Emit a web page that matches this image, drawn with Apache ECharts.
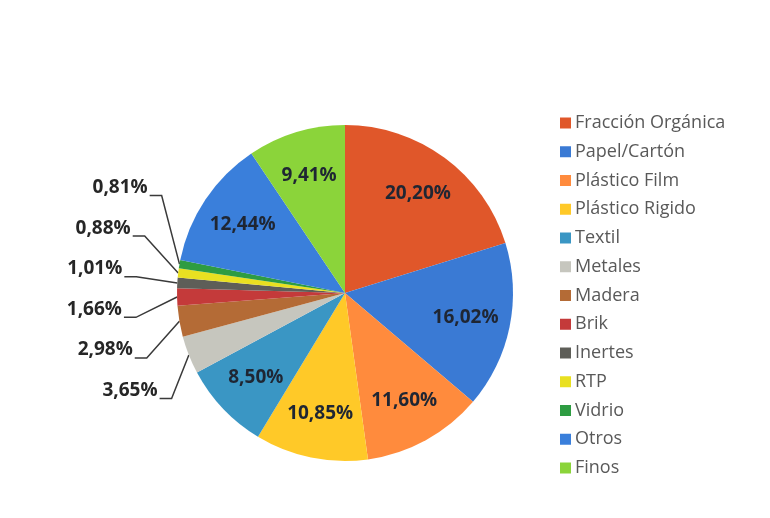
<!DOCTYPE html>
<html>
<head>
<meta charset="utf-8">
<script src="https://cdn.jsdelivr.net/npm/echarts@6/dist/echarts.min.js"></script>
<style>
html,body{margin:0;padding:0;background:#fff;}
#chart{width:770px;height:518px;}
</style>
</head>
<body>
<div id="chart"></div>
<script>
const categories = ['Fracción Orgánica','Papel/Cartón','Plástico Film','Plástico Rigido','Textil','Metales','Madera','Brik','Inertes','RTP','Vidrio','Otros','Finos'];
const values = [20.20,16.02,11.60,10.85,8.50,3.65,2.98,1.66,1.01,0.88,0.81,12.44,9.41];
const colors = ['#E0572A','#3A7AD4','#FF8B3D','#FFC928','#3A96C4','#C6C6BE','#B46B36','#C43A3A','#5E5E58','#E9E021','#2E9C42','#3A7FDB','#8BD43A'];
const outsideLimit = 5;

const CX = 345, CY = 293, R = 168;
const LABEL_PITCH = 40.6, LABEL_A = 224, LABEL_B_UP = 223, LABEL_B_DOWN = 178, LABEL_SHIFT = -4;

function fmt(v){ return v.toFixed(2).replace('.', ',') + '%'; }

// indices of the small slices (outside labels), in draw order
const smallIdx = values.map((v,i)=>v<outsideLimit?i:-1).filter(i=>i>=0);

const mainData = categories.map((c,i)=>({
  name:c, value:values[i], itemStyle:{color:colors[i]},
  label: values[i] < outsideLimit ? {show:true} : {show:false},
  labelLine: values[i] < outsideLimit ? {show:true} : {show:false}
}));
const overlayData = categories.map((c,i)=>({
  name:c+'\u200b', value:values[i],
  label: {show: values[i] >= outsideLimit}
}));

function spreadLabels(params){
  if (params.seriesIndex !== 0) return {};
  const pos = smallIdx.indexOf(params.dataIndex);
  if (pos < 0 || !params.labelLinePoints) return {};
  const n = smallIdx.length;
  const rank = n - 1 - pos; // top-most slice gets rank 0
  const yc = CY + LABEL_SHIFT + (rank - (n-1)/2) * LABEL_PITCH;
  const dy = yc - CY;
  const b = dy < 0 ? LABEL_B_UP : LABEL_B_DOWN;
  const xr = CX - LABEL_A * Math.sqrt(Math.max(0, 1 - (dy/b)*(dy/b)));
  const p0 = params.labelLinePoints[0];
  const ly = yc + 8;
  return {
    x: xr, y: yc, align:'right', verticalAlign:'middle',
    labelLinePoints:[[p0[0],p0[1]],[xr+14,ly],[xr+2,ly]]
  };
}

const chart = echarts.init(document.getElementById('chart'));
chart.setOption({
  backgroundColor:'#ffffff',
  animation:false,
  legend:{
    orient:'vertical', left:555, top:108,
    data:categories,
    icon:'rect', itemWidth:11, itemHeight:11, itemGap:8.75,
    textStyle:{fontFamily:'Open Sans', fontSize:18, color:'#595959', lineHeight:20, padding:[0,0,0,-1]}
  },
  series:[
    {
      type:'pie', center:[CX,CY], radius:[0,R], startAngle:90, clockwise:true,
      avoidLabelOverlap:false, silent:true,
      label:{
        position:'outside', formatter:p=>fmt(p.value),
        fontFamily:'Open Sans', fontWeight:'bold', fontSize:19, color:'#262626'
      },
      labelLine:{length:30, length2:14, lineStyle:{color:'#3a3a3a', width:1.5}},
      labelLayout: spreadLabels,
      data:mainData
    },
    {
      type:'pie', center:[CX,CY], radius:[72,R], startAngle:90, clockwise:true,
      silent:true, legendHoverLink:false,
      itemStyle:{color:'rgba(0,0,0,0)'},
      label:{position:'inside', formatter:p=>fmt(p.value),
        fontFamily:'Open Sans', fontWeight:'bold', fontSize:19, color:'#1f2633'},
      labelLine:{show:false},
      data:overlayData
    }
  ]
});
</script>
</body>
</html>
